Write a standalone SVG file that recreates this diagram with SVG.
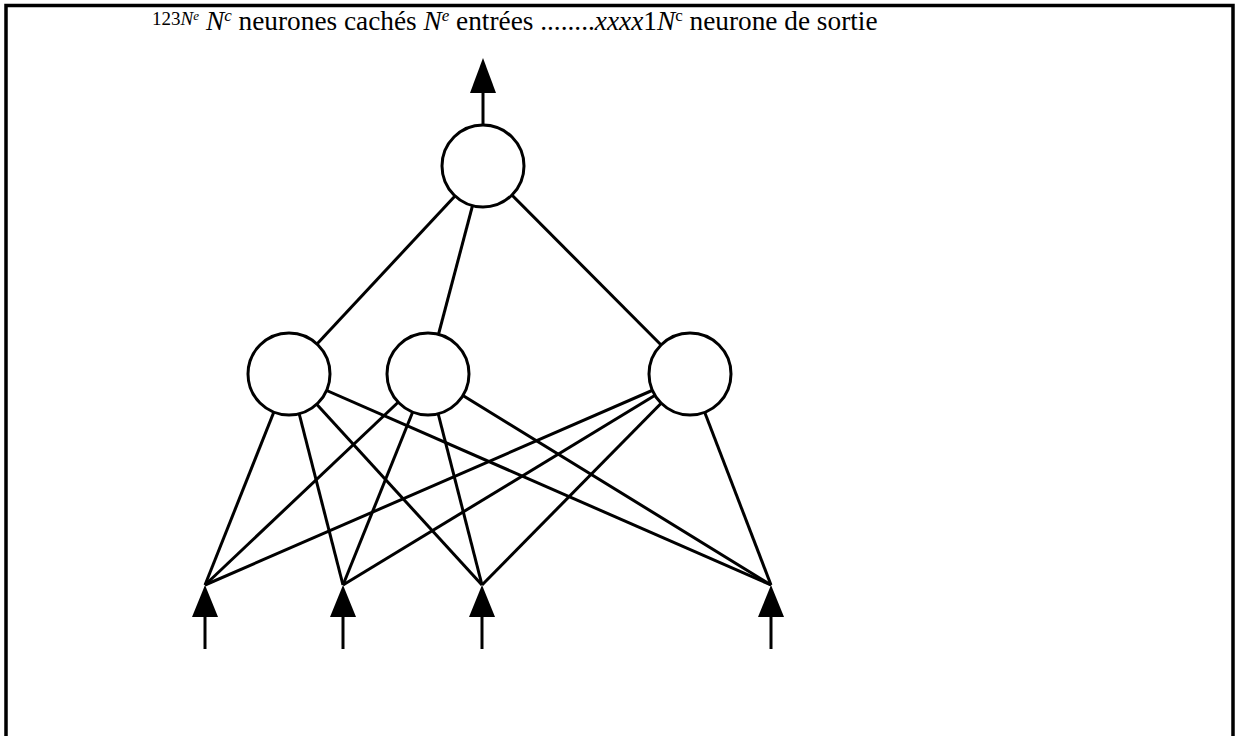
<svg xmlns="http://www.w3.org/2000/svg" width="1236" height="736" viewBox="0 0 1236 736">
<style>
.frame{fill:none;stroke:#000;stroke-width:3.5}
.edge{stroke:#000;stroke-width:3;fill:none}
.node{fill:#fff;stroke:#000;stroke-width:3}
.head{fill:#000;stroke:none}
.i{font-style:italic}
</style>
<rect width="1236" height="736" fill="#fff"/>
<path class="frame" d="M6,740 V5.5 H1233 V740"/>
<text font-family="'Liberation Serif','Times New Roman','DejaVu Serif',serif" fill="#000" y="30" font-size="27.3"><tspan x="152" font-size="19" dy="-5">123</tspan><tspan class="i" font-size="19">N</tspan><tspan class="i" font-size="13" dy="-5">e</tspan><tspan x="206" dy="10" class="i">N</tspan><tspan class="i" font-size="17" dy="-9">c</tspan><tspan dy="9"> neurones cachés </tspan><tspan class="i">N</tspan><tspan class="i" font-size="17" dy="-9">e</tspan><tspan dy="9"> entrées ........</tspan><tspan class="i">xxxx</tspan><tspan>1</tspan><tspan class="i">N</tspan><tspan font-size="17" dy="-9">c</tspan><tspan dy="9"> neurone de sortie</tspan></text>
<g id="connectors">
<line class="edge" x1="483" y1="166" x2="289" y2="374"/>
<line class="edge" x1="483" y1="166" x2="428" y2="374"/>
<line class="edge" x1="483" y1="166" x2="690" y2="374"/>
<line class="edge" x1="289" y1="374" x2="205" y2="585"/>
<line class="edge" x1="289" y1="374" x2="343" y2="585"/>
<line class="edge" x1="289" y1="374" x2="482" y2="585"/>
<line class="edge" x1="289" y1="374" x2="771" y2="585"/>
<line class="edge" x1="428" y1="374" x2="205" y2="585"/>
<line class="edge" x1="428" y1="374" x2="343" y2="585"/>
<line class="edge" x1="428" y1="374" x2="482" y2="585"/>
<line class="edge" x1="428" y1="374" x2="771" y2="585"/>
<line class="edge" x1="690" y1="374" x2="205" y2="585"/>
<line class="edge" x1="690" y1="374" x2="343" y2="585"/>
<line class="edge" x1="690" y1="374" x2="482" y2="585"/>
<line class="edge" x1="690" y1="374" x2="771" y2="585"/>
<line class="edge" x1="483" y1="125" x2="483" y2="90"/>
<polygon class="head" points="483,58 470,93 496,93"/>
<line class="edge" x1="205" y1="649" x2="205" y2="614"/>
<polygon class="head" points="205,585 192,617 218,617"/>
<line class="edge" x1="343" y1="649" x2="343" y2="614"/>
<polygon class="head" points="343,585 330,617 356,617"/>
<line class="edge" x1="482" y1="649" x2="482" y2="614"/>
<polygon class="head" points="482,585 469,617 495,617"/>
<line class="edge" x1="771" y1="649" x2="771" y2="614"/>
<polygon class="head" points="771,585 758,617 784,617"/>
</g>
<g id="output"><circle class="node" cx="483" cy="166" r="41"/></g>
<g id="hidden1"><circle class="node" cx="289" cy="374" r="41"/></g>
<g id="hidden2"><circle class="node" cx="428" cy="374" r="41"/></g>
<g id="hidden3"><circle class="node" cx="690" cy="374" r="41"/></g>
</svg>
